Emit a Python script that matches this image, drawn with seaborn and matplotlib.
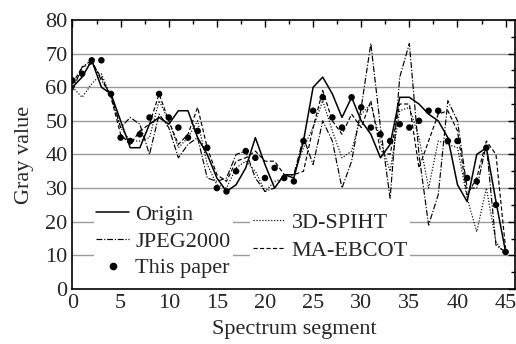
import numpy as np
import pandas as pd
import seaborn as sns
import matplotlib.pyplot as plt
from matplotlib.ticker import MultipleLocator

# values, one per spectrum segment 0..45
segment = list(range(46))
origin = [60, 63, 68, 60, 58, 50, 42, 42, 49, 51, 49, 53, 53, 45, 40, 33, 29, 31, 36, 45,
          37, 30, 34, 33, 44, 60, 63, 58, 51, 57, 50, 46, 39, 43, 57, 57, 55, 52, 50, 45,
          31, 26, 40, 42, 26, 11]
jpeg2000 = [59, 66, 68, 62, 58, 48, 51, 49, 40, 52, 48, 39, 43, 45, 33, 32, 33, 40, 41, 33,
            29, 30, 34, 34, 45, 37, 50, 44, 30, 38, 54, 73, 48, 27, 63, 73, 40, 19, 28, 56,
            50, 30, 30, 43, 13, 11]
this_paper = [62, 64, 68, 68, 58, 45, 44, 46, 51, 58, 51, 48, 45, 47, 42, 30, 29, 35, 41, 39,
              33, 36, 33, 32, 44, 53, 57, 51, 48, 57, 54, 48, 46, 44, 49, 48, 50, 53, 53, 44,
              44, 33, 32, 42, 25, 11]
spiht = [60, 57, 61, 64, 57, 48, 44, 44, 45, 56, 50, 42, 45, 50, 37, 31, 30, 36, 38, 35,
         29, 32, 33, 34, 42, 48, 56, 47, 39, 41, 52, 55, 44, 35, 53, 54, 45, 30, 44, 43,
         42, 27, 17, 30, 14, 10]
ebcot = [61, 66, 67, 63, 57, 46, 43, 47, 49, 58, 50, 43, 46, 54, 42, 34, 32, 38, 39, 41,
         38, 38, 34, 34, 35, 48, 59, 50, 46, 52, 48, 56, 41, 40, 55, 55, 36, 44, 52, 53,
         47, 28, 33, 44, 40, 12]

sns.set_theme(style="white")
plt.rcParams['font.family'] = ['Liberation Serif', 'DejaVu Serif']

fig = plt.figure(figsize=(5.16, 3.44), dpi=100)
ax = fig.add_axes([0.1405, 0.160, 0.858, 0.782])

for v in range(10, 80, 10):
    ax.axhline(v, color='#9a9a9a', lw=1.0, zorder=0)

sns.lineplot(x=segment, y=origin, ax=ax, color='black', lw=1.1, linestyle='-')
sns.lineplot(x=segment, y=jpeg2000, ax=ax, color='black', lw=0.85, linestyle=(0, (5, 1.5, 1, 1.5)))
sns.lineplot(x=segment, y=spiht, ax=ax, color='black', lw=0.85, linestyle=(0, (1, 1.5)))
sns.lineplot(x=segment, y=ebcot, ax=ax, color='black', lw=0.85, linestyle=(0, (3.5, 2)))
sns.scatterplot(x=segment, y=this_paper, ax=ax, color='black', s=22, edgecolor='none', zorder=3)

ax.set_xlim(0, 46)
ax.set_ylim(0, 80)
ax.xaxis.set_major_locator(MultipleLocator(5))
ax.xaxis.set_minor_locator(MultipleLocator(2.5))
ax.yaxis.set_major_locator(MultipleLocator(10))
ax.yaxis.set_minor_locator(MultipleLocator(5))
ax.tick_params(which='both', direction='in', top=True, right=True, labelsize=16, color='black')
ax.tick_params(which='major', length=5, width=1)
ax.tick_params(which='minor', length=3, width=1)
for s in ax.spines.values():
    s.set_color('black')
    s.set_linewidth(1.2)

ax.set_xlabel('Spectrum segment', fontsize=16, labelpad=5)
ax.set_ylabel('Gray value', fontsize=16, labelpad=8)

hs = ax.get_lines()
h_origin, h_jpeg, h_spiht, h_ebcot = hs[7], hs[8], hs[9], hs[10]
h_dot = plt.Line2D([], [], color='black', marker='o', markersize=4.5, linestyle='none')

leg1 = ax.legend([h_origin, h_jpeg, h_dot], ['Origin', 'JPEG2000', 'This paper'],
                 loc='upper left', bbox_to_anchor=(0.049, 0.323), fontsize=16,
                 frameon=True, facecolor='white', edgecolor='none', framealpha=1,
                 handlelength=1.45, handletextpad=0.3, labelspacing=0.28,
                 borderpad=0.1, borderaxespad=0)
ax.add_artist(leg1)
ax.legend([h_spiht, h_ebcot], ['3D-SPIHT', 'MA-EBCOT'],
          loc='upper left', bbox_to_anchor=(0.402, 0.294), fontsize=16,
          frameon=True, facecolor='white', edgecolor='none', framealpha=1,
          handlelength=1.45, handletextpad=0.3, labelspacing=0.35,
          borderpad=0.1, borderaxespad=0)

fig.savefig('out.png', dpi=100)
